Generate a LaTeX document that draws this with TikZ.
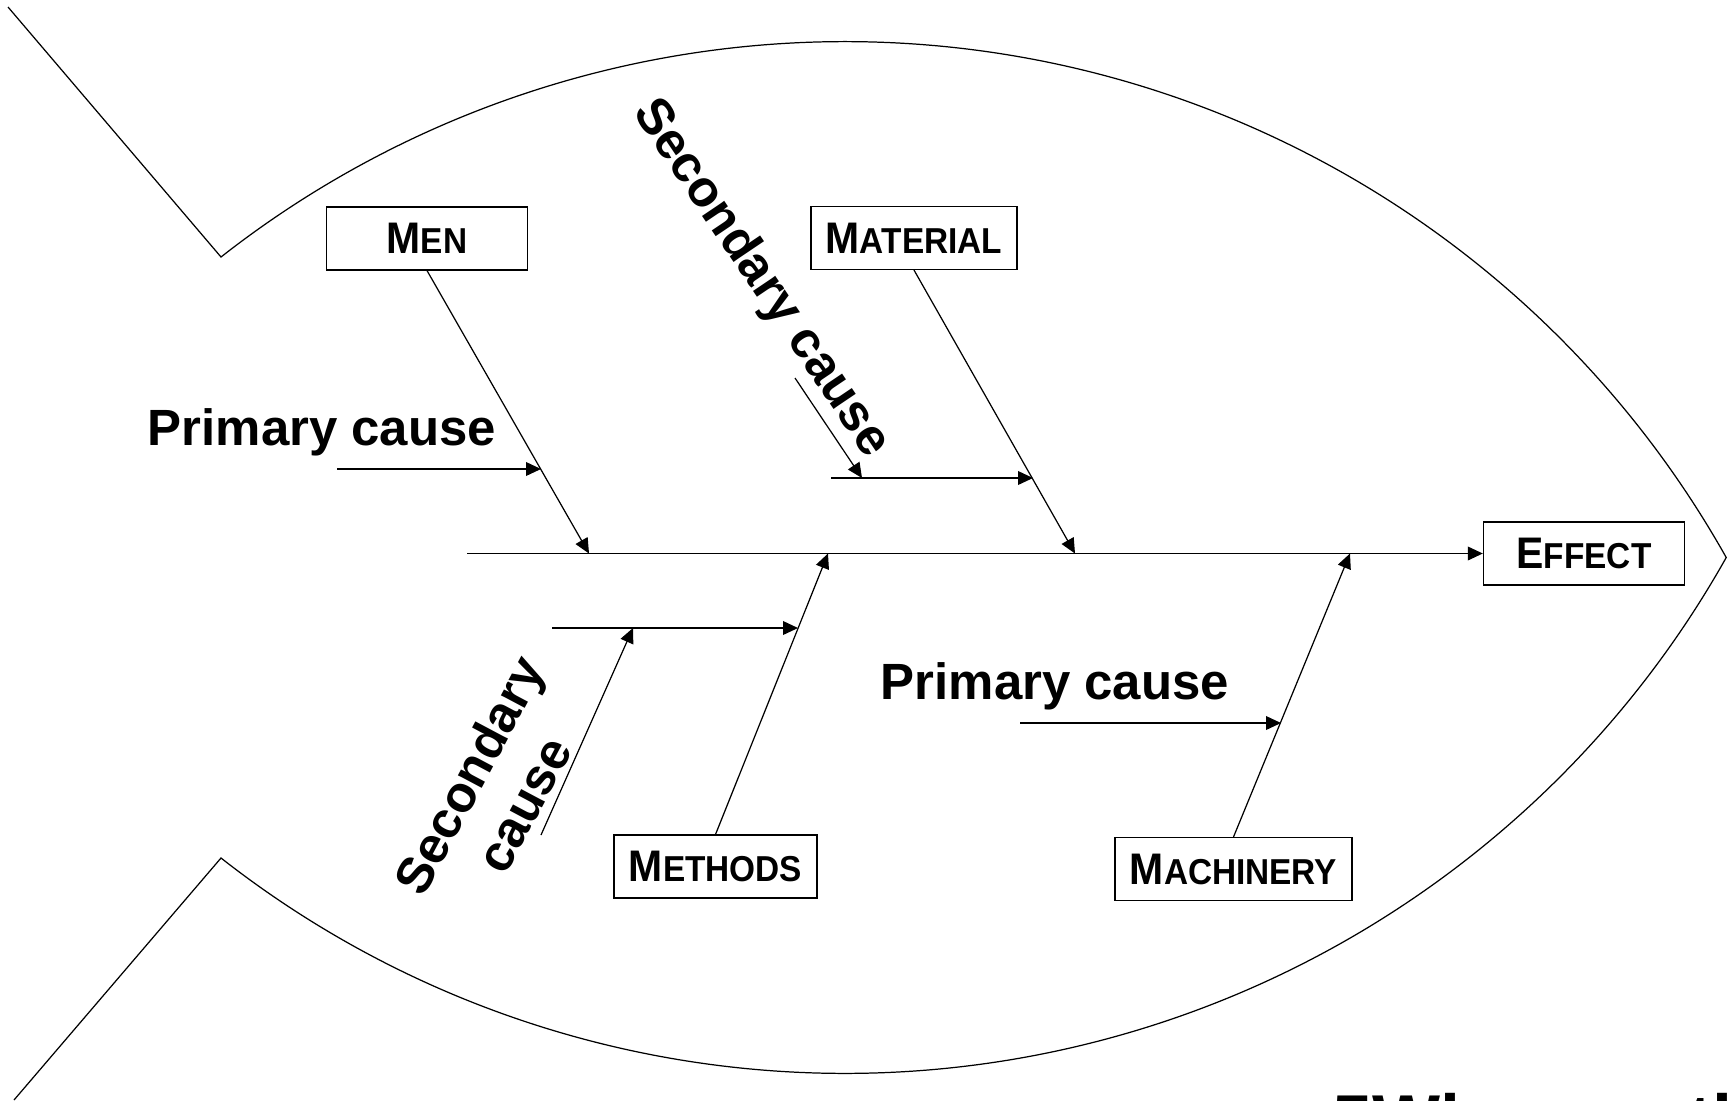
\documentclass[tikz,border=0pt]{standalone}
\usepackage{fontspec}
\setmainfont{Liberation Sans}
\usetikzlibrary{arrows.meta}
% category label: large initial, smaller capitals after it, slightly tall
\newcommand\capword[2]{\scalebox{1}[1.08]{{\fontsize{23.3}{28}\selectfont #1}{\fontsize{19}{23}\selectfont #2}}}

\begin{document}
\begin{tikzpicture}[x=0.02cm, y=0.02cm,
  line width=0.7pt,
  cat/.style={draw, line width=0.7pt, font=\bfseries, minimum width=114.5pt,
    minimum height=35.8pt, inner xsep=8.5pt, inner ysep=0pt},
  lbl/.style={font=\bfseries\fontsize{29}{35.4}\selectfont, inner sep=0pt},
  arr/.style={-{Triangle[length=8.5pt,width=7.8pt]}}
]
\useasboundingbox (0,0) rectangle (1732,-1100);
\clip (0,0) rectangle (1732,-1100);

% fish outline: tail and the two arcs of the body (radius 1011.2 units)
\draw (8,-7) -- (221,-257) arc[start angle=128.1, end angle=29.3, radius=20.224cm];
\draw (14,-1100) -- (221,-858) arc[start angle=231.9, end angle=330.7, radius=20.224cm];

% category boxes
\node[cat] (men) at (427,-238.5) {\capword{M}{EN}};
\node[cat] (material) at (914,-238) {\capword{M}{ATERIAL}};
\node[cat] (methods) at (715.5,-866.5) {\capword{M}{ETHODS}};
\node[cat] (machinery) at (1233.5,-869) {\capword{M}{ACHINERY}};
\node[cat] (effect) at (1584,-553.5) {\capword{E}{FFECT}};

% spine
\coordinate (spine) at (467,-553.5);
\draw[arr] (spine) -- (effect.west);

% main bones
\coordinate (jmen) at (589,-553.5);
\coordinate (jmat) at (1075,-553.5);
\coordinate (jmet) at (828,-553.5);
\coordinate (jmac) at (1350,-553.5);
\draw[arr] (men.south) -- (jmen);
\draw[arr] (material.south) -- (jmat);
\draw[arr] (methods.north) -- (jmet);
\draw[arr] (machinery.north) -- (jmac);

% primary and secondary cause bones
\coordinate (a1) at (337,-469);  \coordinate (b1) at (541,-469);
\draw[arr] (a1) -- (b1);
\coordinate (a2) at (831,-478);  \coordinate (b2) at (1033,-478);
\coordinate (c2) at (795,-378);  \coordinate (d2) at (862,-478);
\draw[arr] (a2) -- (b2);
\draw[arr] (c2) -- (d2);
\coordinate (a3) at (552,-628);  \coordinate (b3) at (798,-628);
\coordinate (c3) at (541,-835);  \coordinate (d3) at (633,-628);
\draw[arr] (a3) -- (b3);
\draw[arr] (c3) -- (d3);
\coordinate (a4) at (1020,-723); \coordinate (b4) at (1281,-723);
\draw[arr] (a4) -- (b4);

% labels
\node[lbl, anchor=base] (pc1) at (322,-445) {Primary cause};
\node[lbl, anchor=base] (pc2) at (1055,-699) {Primary cause};
\node[lbl, anchor=base, rotate=-56] (sc1) at (750,-286) {Secondary cause};
\node[lbl, align=center, rotate=62] (sc2) at (496,-790) {Secondary\\cause};

% caption running off the lower edge
\node[font=\bfseries\fontsize{41}{49}\selectfont, inner sep=0pt, anchor=base west]
  (caption) at (1332,-1145) {5Whys method};
\end{tikzpicture}
\end{document}
